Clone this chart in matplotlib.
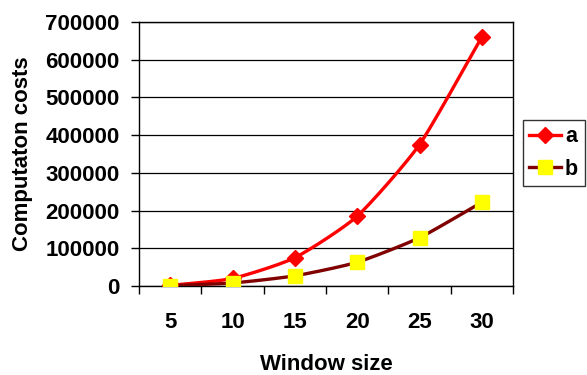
import numpy as np
import matplotlib
matplotlib.use("Agg")
import matplotlib.pyplot as plt
from matplotlib.lines import Line2D

# Computation cost against window size
window_sizes = ["5", "10", "15", "20", "25", "30"]
cost_a = [1500, 20000, 75000, 185000, 375000, 660000]
cost_b = [1000, 8000, 27000, 63000, 128000, 222000]
y_ticks = [0, 100000, 200000, 300000, 400000, 500000, 600000, 700000]

plt.rcParams["font.family"] = ["Liberation Sans", "DejaVu Sans"]
plt.rcParams["font.weight"] = "bold"


def smooth(xs, ys, tension=0.3, steps=30):
    """Cardinal-spline curve through the given points (smoothed line look)."""
    xs = np.asarray(xs, float)
    ys = np.asarray(ys, float)
    px = np.concatenate([[2 * xs[0] - xs[1]], xs, [2 * xs[-1] - xs[-2]]])
    py = np.concatenate([[2 * ys[0] - ys[1]], ys, [2 * ys[-1] - ys[-2]]])
    t = np.linspace(0, 1, steps, endpoint=False)
    h00 = 2 * t ** 3 - 3 * t ** 2 + 1
    h10 = t ** 3 - 2 * t ** 2 + t
    h01 = -2 * t ** 3 + 3 * t ** 2
    h11 = t ** 3 - t ** 2
    out_x, out_y = [], []
    for i in range(1, len(px) - 2):
        for p, out in ((px, out_x), (py, out_y)):
            m1 = tension * (p[i + 1] - p[i - 1])
            m2 = tension * (p[i + 2] - p[i])
            out.extend(h00 * p[i] + h10 * m1 + h01 * p[i + 1] + h11 * m2)
    out_x.append(xs[-1])
    out_y.append(ys[-1])
    return np.array(out_x), np.array(out_y)


fig = plt.figure(figsize=(5.87, 3.75), dpi=100)
ax = fig.add_axes([139 / 587, 1 - 286 / 375, (513 - 139) / 587, (286 - 22) / 375])

x = np.arange(len(window_sizes))
red = "#FF0000"
dark = "#800000"
yellow = "#FFFF00"

sx, sy = smooth(x, cost_a)
ax.plot(sx, sy, color=red, lw=2.4, zorder=3)
ax.plot(x, cost_a, ls="none", marker="D", ms=8.5, color=red, zorder=4)

sx, sy = smooth(x, cost_b)
ax.plot(sx, sy, color=dark, lw=2.4, zorder=3)
ax.plot(x, cost_b, ls="none", marker="s", ms=9.5, color=yellow,
        markeredgecolor=yellow, zorder=4)

ax.set_xlim(-0.5, len(window_sizes) - 0.5)
ax.set_ylim(0, 700000)
ax.set_yticks(y_ticks)
ax.set_yticklabels([str(v) for v in y_ticks])
ax.set_xticks(x)
ax.set_xticklabels(window_sizes)
ax.set_xticks(np.arange(len(window_sizes) + 1) - 0.5, minor=True)

ax.tick_params(axis="x", which="major", length=0, pad=19, labelsize=16)
ax.tick_params(axis="x", which="minor", length=6, width=1, direction="out")
ax.tick_params(axis="y", length=6, width=1, pad=8, labelsize=16)

ax.grid(axis="y", color="black", lw=0.9)
ax.set_axisbelow(True)
for s in ax.spines.values():
    s.set_color("black")
    s.set_linewidth(1.0)

ax.set_xlabel("Window size", fontsize=16, fontweight="bold", labelpad=15)
ax.set_ylabel("Computaton costs", fontsize=16, fontweight="bold", labelpad=9)

handles = [
    Line2D([], [], color=red, lw=2.4, marker="D", ms=8.5),
    Line2D([], [], color=dark, lw=2.4, marker="s", ms=9.5,
           markerfacecolor=yellow, markeredgecolor=yellow),
]
leg = fig.legend(handles, ["a", "b"], loc="center left",
                 bbox_to_anchor=(523 / 587, 1 - 153 / 375),
                 frameon=True, fancybox=False, fontsize=15.5,
                 handlelength=1.45, handletextpad=0.2, borderpad=0.3,
                 labelspacing=0.55, borderaxespad=0)
leg.get_frame().set_edgecolor("black")
leg.get_frame().set_linewidth(1.0)
for t in leg.get_texts():
    t.set_fontweight("bold")

fig.savefig("out.png", dpi=100)
